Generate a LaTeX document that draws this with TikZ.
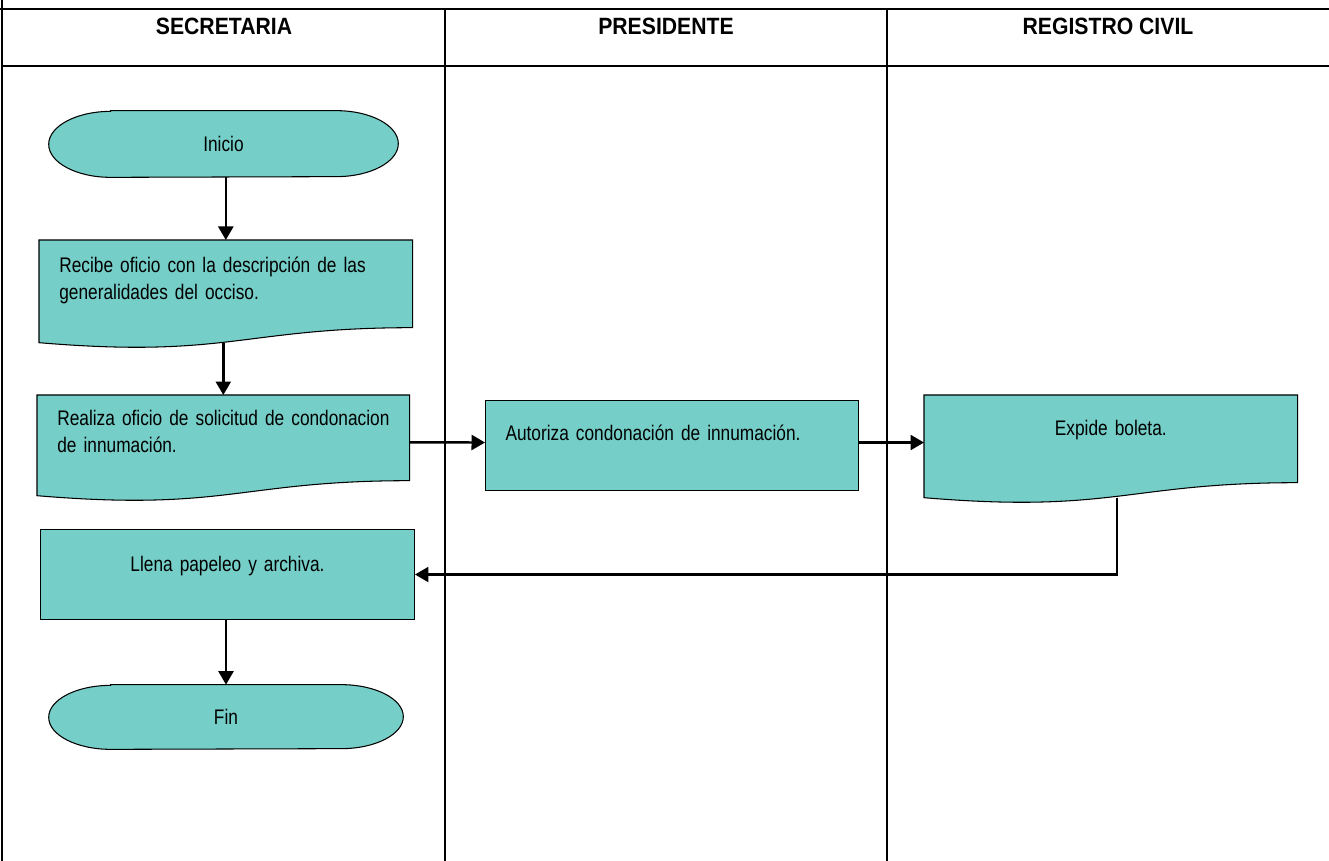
\documentclass[tikz,border=0pt]{standalone}
\usepackage{fontspec}
\setmainfont{Liberation Sans}[FakeStretch=0.82]
\newfontfamily\headfont{Liberation Sans}[FakeStretch=0.9]
\usetikzlibrary{arrows.meta,calc,backgrounds}
\definecolor{lagoon}{RGB}{117,206,199}
\newcommand\boxfont{\fontsize{12}{15.3}\selectfont\spaceskip 2.7pt\relax}
\tikzset{
  >={Triangle[length=2.7mm,width=3mm]},
  lane/.style={draw=black,line width=0.8pt},
  head/.style={font=\headfont\fontsize{13.4}{16}\selectfont\bfseries},
  box/.style={anchor=north west,inner xsep=0.4cm,inner ysep=0pt,align=left,font=\boxfont},
  task/.style={box,draw=black,fill=lagoon,line width=0.6pt},
  doc/.style={box},
  term/.style={minimum height=1.32cm,font=\boxfont},
  outline/.style={draw=black,fill=lagoon,line width=0.6pt},
  flow/.style={->,line width=1.4pt},
}
\begin{document}
\begin{tikzpicture}[x=0.02cm,y=-0.02cm]
  \useasboundingbox (0,0) rectangle (1329,861);
  % swimlanes
  \draw[lane] (0,9) -- (1329,9) (2,66) -- (1329,66);
  \draw[lane] (2,0) -- (2,861);
  \foreach \x in {445,887} \draw[lane] (\x,9) -- (\x,861);
  \foreach \t/\x [count=\i] in {SECRETARIA/224,PRESIDENTE/666,REGISTRO CIVIL/1108}
    \node[head] (lane\i) at (\x,26) {\t};

  \node[term,minimum width=6.98cm] (inicio) at (223.5,144) {Inicio};
  \node[doc,text width=6.66cm,text height=0.64cm,text depth=1.4cm] (recibe) at (39,240)
    {\mbox{Recibe oficio con la descripción de las}\\generalidades del occiso.};
  \node[doc,text width=6.64cm,text height=0.6cm,text depth=1.4cm] (realiza) at (37,395)
    {\mbox{Realiza oficio de solicitud de condonacion}\\de innumación.};
  \node[task,text width=6.66cm,text height=0.8cm,text depth=1cm] (autoriza) at (485,400)
    {\mbox{Autoriza condonación de innumación.}};
  \node[doc,align=center,text width=6.66cm,text height=0.8cm,text depth=1.24cm] (expide) at (924,395)
    {Expide boleta.};
  \node[task,align=center,text width=6.68cm,text height=0.84cm,text depth=0.96cm] (llena) at (40,529)
    {Llena papeleo y archiva.};
  \node[term,minimum width=7.08cm,minimum height=1.28cm] (fin) at (226,717) {Fin};

  \begin{scope}[on background layer]
    \foreach \n in {recibe,realiza,expide}
      \draw[outline] (\n.north west) -- (\n.north east) -- ($(\n.south east)+(0,-15)$)
        .. controls ($(\n.south east)+(-170,-15)$) and ($(\n.south west)+(190,16)$) .. (\n.south west) -- cycle;
    \foreach \n/\r in {inicio/0.66cm,fin/0.64cm}
      \draw[outline] ($(\n.north west)+(62,0)$) -- ($(\n.north east)+(-62,0)$)
        arc[start angle=90,end angle=-90,x radius=1.24cm,y radius=\r]
        -- ($(\n.south west)+(62,0)$)
        arc[start angle=270,end angle=90,x radius=1.24cm,y radius=\r] -- cycle;
  \end{scope}

  \draw[flow] (recibe.north |- inicio.south) -- (recibe.north);
  \draw[flow] (realiza.north |- recibe.south) -- (realiza.north);
  \draw[flow] ($(realiza.east)+(0,-3)$) -- ($(autoriza.west)+(0,-3)$);
  \draw[flow] ($(autoriza.east)+(0,-3)$) -- ($(autoriza.east -| expide.west)+(0,-3)$);
  \draw[flow] ($(expide.south)+(6,0)$) |- (llena.east);
  \draw[flow] (fin.north |- llena.south) -- (fin.north);
\end{tikzpicture}
\end{document}
